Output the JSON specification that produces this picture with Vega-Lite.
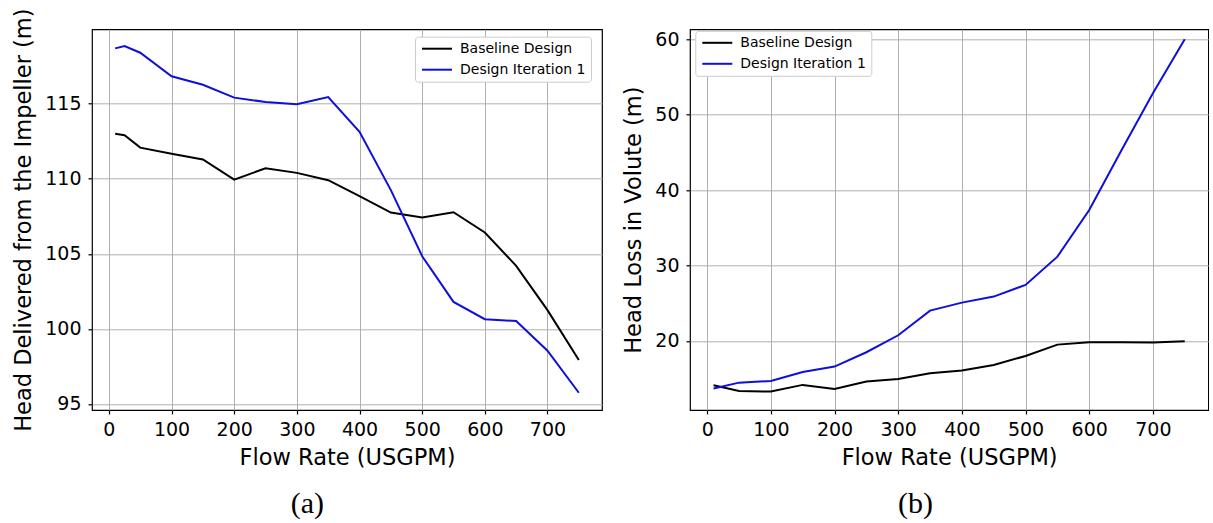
{
  "$schema": "https://vega.github.io/schema/vega-lite/v6.json",
  "padding": {"left": 12, "top": 7.3, "right": 0, "bottom": 0},
  "background": "white",
  "spacing": 19,
  "resolve": {"scale": {"color": "independent"}, "legend": {"color": "independent"}},
  "config": {
    "view": {"stroke": "#000000", "strokeWidth": 1.2},
    "axis": {"domain": false, "grid": true, "gridColor": "#b0b0b0", "gridWidth": 1, "tickColor": "#000000", "tickSize": 4, "tickWidth": 1.2, "labelFont": "DejaVu Sans", "labelFontSize": 19, "labelColor": "#000000", "titleFont": "DejaVu Sans", "titleFontSize": 22.5, "titleFontWeight": "normal", "titleColor": "#000000"},
    "axisX": {"labelPadding": 6, "titlePadding": 7, "labelFlush": false},
    "axisY": {"labelPadding": 7, "titlePadding": 9},
    "legend": {"symbolType": "M-1,0H5", "symbolSize": 100, "symbolStrokeWidth": 2, "labelFont": "DejaVu Sans", "labelFontSize": 14, "labelColor": "#000000", "labelOffset": 26, "padding": 5, "rowPadding": 7, "strokeColor": "#cccccc", "fillColor": "#ffffff", "cornerRadius": 3, "title": null}
  },
  "hconcat": [
    {
      "title": {"text": "(a)", "orient": "bottom", "frame": "bounds", "font": "Liberation Serif", "fontSize": 30, "fontWeight": "normal", "color": "#000000", "offset": 20, "anchor": "middle"},
      "width": 510,
      "height": 380.7,
      "data": {"values": [
        {"flow": 10, "head": 113.0, "series": "Baseline Design"},
        {"flow": 25, "head": 112.9, "series": "Baseline Design"},
        {"flow": 50, "head": 112.07, "series": "Baseline Design"},
        {"flow": 100, "head": 111.67, "series": "Baseline Design"},
        {"flow": 150, "head": 111.28, "series": "Baseline Design"},
        {"flow": 200, "head": 109.94, "series": "Baseline Design"},
        {"flow": 250, "head": 110.7, "series": "Baseline Design"},
        {"flow": 300, "head": 110.39, "series": "Baseline Design"},
        {"flow": 350, "head": 109.9, "series": "Baseline Design"},
        {"flow": 400, "head": 108.84, "series": "Baseline Design"},
        {"flow": 450, "head": 107.75, "series": "Baseline Design"},
        {"flow": 500, "head": 107.42, "series": "Baseline Design"},
        {"flow": 550, "head": 107.77, "series": "Baseline Design"},
        {"flow": 600, "head": 106.42, "series": "Baseline Design"},
        {"flow": 650, "head": 104.2, "series": "Baseline Design"},
        {"flow": 700, "head": 101.25, "series": "Baseline Design"},
        {"flow": 750, "head": 97.93, "series": "Baseline Design"},
        {"flow": 10, "head": 118.68, "series": "Design Iteration 1"},
        {"flow": 25, "head": 118.84, "series": "Design Iteration 1"},
        {"flow": 50, "head": 118.39, "series": "Design Iteration 1"},
        {"flow": 100, "head": 116.82, "series": "Design Iteration 1"},
        {"flow": 150, "head": 116.26, "series": "Design Iteration 1"},
        {"flow": 200, "head": 115.4, "series": "Design Iteration 1"},
        {"flow": 250, "head": 115.11, "series": "Design Iteration 1"},
        {"flow": 300, "head": 114.96, "series": "Design Iteration 1"},
        {"flow": 350, "head": 115.44, "series": "Design Iteration 1"},
        {"flow": 400, "head": 113.12, "series": "Design Iteration 1"},
        {"flow": 450, "head": 109.24, "series": "Design Iteration 1"},
        {"flow": 500, "head": 104.84, "series": "Design Iteration 1"},
        {"flow": 550, "head": 101.8, "series": "Design Iteration 1"},
        {"flow": 600, "head": 100.65, "series": "Design Iteration 1"},
        {"flow": 650, "head": 100.52, "series": "Design Iteration 1"},
        {"flow": 700, "head": 98.55, "series": "Design Iteration 1"},
        {"flow": 750, "head": 95.75, "series": "Design Iteration 1"}
      ]},
      "mark": {"type": "line", "strokeWidth": 2},
      "encoding": {
        "x": {"field": "flow", "type": "quantitative", "scale": {"domain": [-27, 787], "nice": false, "zero": false}, "axis": {"values": [0, 100, 200, 300, 400, 500, 600, 700], "title": "Flow Rate (USGPM)"}},
        "y": {"field": "head", "type": "quantitative", "scale": {"domain": [94.6, 119.95], "nice": false, "zero": false}, "axis": {"values": [95, 100, 105, 110, 115], "title": "Head Delivered from the Impeller (m)"}},
        "color": {"field": "series", "type": "nominal", "scale": {"domain": ["Baseline Design", "Design Iteration 1"], "range": ["#000000", "#0f0fdc"]}, "legend": {"orient": "none", "legendX": 323, "legendY": 7.4}}
      }
    },
    {
      "title": {"text": "(b)", "orient": "bottom", "frame": "bounds", "font": "Liberation Serif", "fontSize": 30, "fontWeight": "normal", "color": "#000000", "offset": 20, "anchor": "middle"},
      "width": 518.3,
      "height": 380.7,
      "data": {"values": [
        {"flow": 10, "loss": 14.12, "series": "Baseline Design"},
        {"flow": 50, "loss": 13.37, "series": "Baseline Design"},
        {"flow": 100, "loss": 13.28, "series": "Baseline Design"},
        {"flow": 150, "loss": 14.17, "series": "Baseline Design"},
        {"flow": 200, "loss": 13.64, "series": "Baseline Design"},
        {"flow": 250, "loss": 14.61, "series": "Baseline Design"},
        {"flow": 300, "loss": 14.96, "series": "Baseline Design"},
        {"flow": 350, "loss": 15.71, "series": "Baseline Design"},
        {"flow": 400, "loss": 16.07, "series": "Baseline Design"},
        {"flow": 450, "loss": 16.82, "series": "Baseline Design"},
        {"flow": 500, "loss": 18.01, "series": "Baseline Design"},
        {"flow": 550, "loss": 19.51, "series": "Baseline Design"},
        {"flow": 600, "loss": 19.82, "series": "Baseline Design"},
        {"flow": 650, "loss": 19.82, "series": "Baseline Design"},
        {"flow": 700, "loss": 19.78, "series": "Baseline Design"},
        {"flow": 750, "loss": 19.96, "series": "Baseline Design"},
        {"flow": 10, "loss": 13.68, "series": "Design Iteration 1"},
        {"flow": 50, "loss": 14.47, "series": "Design Iteration 1"},
        {"flow": 100, "loss": 14.7, "series": "Design Iteration 1"},
        {"flow": 150, "loss": 15.89, "series": "Design Iteration 1"},
        {"flow": 200, "loss": 16.6, "series": "Design Iteration 1"},
        {"flow": 250, "loss": 18.5, "series": "Design Iteration 1"},
        {"flow": 300, "loss": 20.75, "series": "Design Iteration 1"},
        {"flow": 350, "loss": 24.02, "series": "Design Iteration 1"},
        {"flow": 400, "loss": 25.08, "series": "Design Iteration 1"},
        {"flow": 450, "loss": 25.88, "series": "Design Iteration 1"},
        {"flow": 500, "loss": 27.43, "series": "Design Iteration 1"},
        {"flow": 550, "loss": 31.18, "series": "Design Iteration 1"},
        {"flow": 600, "loss": 37.37, "series": "Design Iteration 1"},
        {"flow": 650, "loss": 45.2, "series": "Design Iteration 1"},
        {"flow": 700, "loss": 52.84, "series": "Design Iteration 1"},
        {"flow": 750, "loss": 60.0, "series": "Design Iteration 1"}
      ]},
      "mark": {"type": "line", "strokeWidth": 2},
      "encoding": {
        "x": {"field": "flow", "type": "quantitative", "scale": {"domain": [-27, 787], "nice": false, "zero": false}, "axis": {"values": [0, 100, 200, 300, 400, 500, 600, 700], "title": "Flow Rate (USGPM)"}},
        "y": {"field": "loss", "type": "quantitative", "scale": {"domain": [10.84, 61.33], "nice": false, "zero": false}, "axis": {"values": [20, 30, 40, 50, 60], "title": "Head Loss in Volute (m)"}},
        "color": {"field": "series", "type": "nominal", "scale": {"domain": ["Baseline Design", "Design Iteration 1"], "range": ["#000000", "#0f0fdc"]}, "legend": {"orient": "none", "legendX": 5.3, "legendY": 1.5}}
      }
    }
  ]
}
